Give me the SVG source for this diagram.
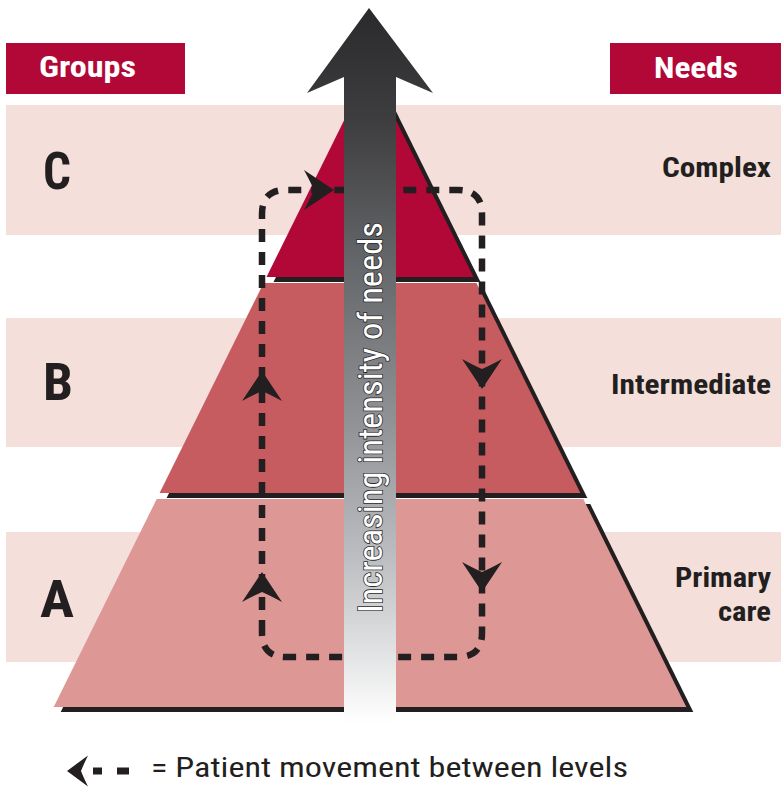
<svg xmlns="http://www.w3.org/2000/svg" width="781" height="788" viewBox="0 0 781 788">
<style>
.band{fill:#f4dfdb}
.hdr{fill:#b20838}
.hdrt{font-family:"Roboto Condensed","Liberation Sans Narrow",Roboto,"Liberation Sans",sans-serif;font-weight:bold;font-size:29px;fill:#ffffff}
.grp{font-family:"Roboto Condensed","Liberation Sans Narrow",Roboto,"Liberation Sans",sans-serif;font-weight:bold;font-size:52px;fill:#231f20}
.need{font-family:"Roboto Condensed","Liberation Sans Narrow",Roboto,"Liberation Sans",sans-serif;font-weight:bold;font-size:28px;fill:#231f20;text-anchor:end}
.shadow{fill:#231f20}
.dash{fill:none;stroke:#231f20;stroke-width:6.5;stroke-dasharray:13 10}
.ah{fill:#231f20}
.vt{font-family:"Roboto Condensed","Liberation Sans Narrow",Roboto,"Liberation Sans",sans-serif;font-size:34px;fill:#ffffff;stroke:#2b2a2c;stroke-width:1.6;paint-order:stroke}
.leg{font-family:"Roboto Condensed","Liberation Sans Narrow",Roboto,"Liberation Sans",sans-serif;font-size:28px;fill:#231f20}
</style>
<defs>
<linearGradient id="arrowGrad" gradientUnits="userSpaceOnUse" x1="0" y1="8" x2="0" y2="723">
<stop offset="0" stop-color="#2a292b"/>
<stop offset="0.16" stop-color="#3e3e40"/>
<stop offset="0.34" stop-color="#626366"/>
<stop offset="0.58" stop-color="#909295"/>
<stop offset="0.77" stop-color="#bdbec1"/>
<stop offset="0.90" stop-color="#e1e2e3"/>
<stop offset="1" stop-color="#ffffff"/>
</linearGradient>
<path id="head" d="M0,0 L-30,-20 Q-23,-7 -20,0 Q-23,7 -30,20 Z"/>
</defs>

<g id="bands">
<rect class="band" x="6" y="105" width="775" height="130"/>
<rect class="band" x="6" y="318" width="775" height="129"/>
<rect class="band" x="6" y="532" width="775" height="130"/>
</g>

<g id="header-groups">
<rect class="hdr" x="6" y="43" width="179" height="51"/>
<text class="hdrt" x="39" y="77" textLength="97" lengthAdjust="spacingAndGlyphs">Groups</text>
</g>
<g id="header-needs">
<rect class="hdr" x="610" y="43" width="171" height="51"/>
<text class="hdrt" x="654" y="78" textLength="84" lengthAdjust="spacingAndGlyphs">Needs</text>
</g>

<g id="group-labels">
<text class="grp" x="43" y="189" textLength="28" lengthAdjust="spacingAndGlyphs">C</text>
<text class="grp" x="43" y="400" textLength="30" lengthAdjust="spacingAndGlyphs">B</text>
<text class="grp" x="40" y="617" textLength="34" lengthAdjust="spacingAndGlyphs">A</text>
</g>

<g id="need-labels">
<text class="need" x="771" y="177" textLength="109" lengthAdjust="spacingAndGlyphs">Complex</text>
<text class="need" x="771" y="394" textLength="160" lengthAdjust="spacingAndGlyphs">Intermediate</text>
<text class="need" x="771" y="587" textLength="96" lengthAdjust="spacingAndGlyphs">Primary</text>
<text class="need" x="771" y="621" textLength="53" lengthAdjust="spacingAndGlyphs">care</text>
</g>

<g id="level-C">
<polygon class="shadow" points="377,73 273.5,282 480.5,282"/>
<polygon fill="#b20838" points="370,68 266.5,277 473.5,277"/>
</g>
<g id="level-B">
<polygon class="shadow" points="270.6,288 483.4,288 587.4,498 166.6,498"/>
<polygon fill="#c65c60" points="263.6,283 476.4,283 580.4,493 159.6,493"/>
</g>
<g id="level-A">
<polygon class="shadow" points="163.7,504 590.3,504 693.3,712 60.7,712"/>
<polygon fill="#dd9795" points="156.7,499 583.3,499 686.3,707 53.7,707"/>
</g>

<g id="connectors">
<path class="dash" d="M262,633 L262,214 Q262,190 286,190 L458,190 Q482,190 482,214 L482,633 Q482,657 458,657 L286,657 Q262,657 262,633 Z"/>
<use href="#head" class="ah" transform="translate(334,190)"/>
<use href="#head" class="ah" transform="translate(262,371) rotate(-90)"/>
<use href="#head" class="ah" transform="translate(262,572) rotate(-90)"/>
<use href="#head" class="ah" transform="translate(482,389) rotate(90)"/>
<use href="#head" class="ah" transform="translate(482,592) rotate(90)"/>
</g>

<g id="intensity-arrow">
<polygon fill="url(#arrowGrad)" points="369,8 433,93 396,77 396,723 344,723 344,77 307,93"/>
<text class="vt" x="382" y="613" transform="rotate(-90 382 613)" textLength="391" lengthAdjust="spacingAndGlyphs">Increasing intensity of needs</text>
</g>

<g id="legend">
<use href="#head" class="ah" transform="translate(67,771) rotate(180) scale(0.7,0.78)"/>
<rect x="93" y="767.5" width="9" height="7" fill="#231f20"/>
<rect x="117" y="767.5" width="12" height="7" fill="#231f20"/>
<text class="leg" x="151" y="777" textLength="477" lengthAdjust="spacingAndGlyphs">= Patient movement between levels</text>
</g>
</svg>
